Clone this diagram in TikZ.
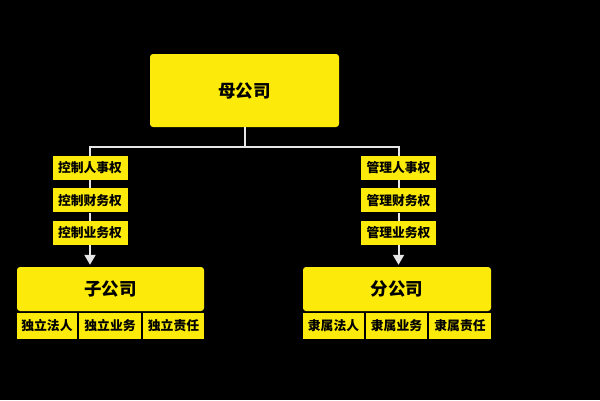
\documentclass[tikz,border=0pt]{standalone}
\usepackage{fontspec}
\newfontfamily\cjk[BoldFont={Noto Sans CJK SC Black}]{Noto Sans CJK SC}
\usetikzlibrary{positioning,arrows.meta}

\definecolor{boxyellow}{HTML}{FCEB0A}
\definecolor{linegray}{HTML}{E6E6E6}

\tikzset{
  company/.style={fill=boxyellow, rounded corners=3pt, inner sep=0pt, font=\cjk\bfseries\fontsize{17.5}{17.5}\selectfont},
  power/.style={fill=boxyellow, inner sep=0pt, minimum width=75pt, minimum height=24pt, font=\cjk\bfseries\fontsize{12.8}{12.8}\selectfont},
  trait/.style={fill=boxyellow, inner sep=0pt, minimum height=26pt, font=\cjk\bfseries\fontsize{12.8}{12.8}\selectfont},
  link/.style={draw=linegray, line width=2pt},
  arrow/.style={link, -{Triangle[width=11pt,length=10pt]}, shorten >=2pt}
}

\begin{document}
\begin{tikzpicture}[x=1pt, y=-1pt]
  % Background
  \fill[black] (0,0) rectangle (600,400);
  \useasboundingbox (0,0) rectangle (600,400);

  % Define nodes
  \node[company, minimum width=189pt, minimum height=73pt] (mu) at (244.5,90.5) {母公司};
  \coordinate (split) at (244.5,147);

  \node[power]                            (zp1) at (90,168) {控制人事权};
  \node[power, below=8pt of zp1]          (zp2) {控制财务权};
  \node[power, below=8pt of zp2]          (zp3) {控制业务权};

  \node[power]                            (fp1) at (398.5,168) {管理人事权};
  \node[power, below=8pt of fp1]          (fp2) {管理财务权};
  \node[power, below=8pt of fp2]          (fp3) {管理业务权};

  \node[company, minimum width=187pt, minimum height=44pt] (zi) at (110.5,289) {子公司};
  \node[trait, minimum width=60pt] (zt1) at (47,326) {独立法人};
  \node[trait, minimum width=62pt] (zt2) at (110,326) {独立业务};
  \node[trait, minimum width=61pt] (zt3) at (173.5,326) {独立责任};

  \node[company, minimum width=188pt, minimum height=44pt] (fen) at (397,289) {分公司};
  \node[trait, minimum width=61pt] (ft1) at (333.5,326) {隶属法人};
  \node[trait, minimum width=61pt] (ft2) at (396.5,326) {隶属业务};
  \node[trait, minimum width=62pt] (ft3) at (460,326) {隶属责任};

  % Connect the nodes
  \draw[link] (mu.south) -- (split);
  \draw[link] (zp1.north) |- (split) -| (fp1.north);
  \draw[link] (zp1) -- (zp2) (zp2) -- (zp3);
  \draw[link] (fp1) -- (fp2) (fp2) -- (fp3);
  \draw[arrow] (zp3.south) -- (zp3.south |- zi.north);
  \draw[arrow] (fp3.south) -- (fp3.south |- fen.north);

\end{tikzpicture}
\end{document}
